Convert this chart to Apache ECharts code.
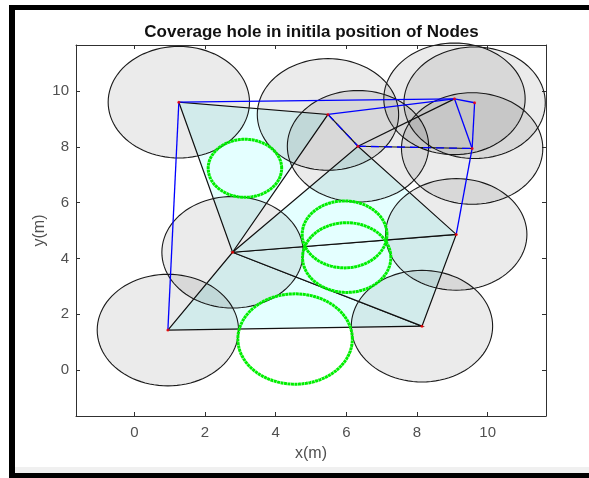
<!DOCTYPE html>
<html>
<head>
<meta charset="utf-8">
<script src="https://cdn.jsdelivr.net/npm/echarts@6/dist/echarts.min.js"></script>
<style>
html, body { margin: 0; padding: 0; background: #fff; }
#chart { width: 589px; height: 478px; }
</style>
</head>
<body>
<div id="chart"></div>
<script>
// sensor nodes, initial positions
const nodeX = [0.95, 1.26, 2.78, 5.48, 6.33, 9.06, 9.63, 9.56, 9.11, 8.14];
const nodeY = [1.43, 9.60, 4.22, 9.16, 8.02, 9.72, 9.58, 7.94, 4.86, 1.57];
const sensingRadius = 2;

// triangulation, by node index
const triangles = [[0, 2, 9], [2, 8, 9], [2, 4, 8], [1, 2, 3]];
const blackEdges = [[4, 5], [4, 7], [3, 4]];
const blueEdges = [[0, 1], [1, 5], [3, 5], [5, 6], [5, 7], [6, 7], [7, 8]];
const blueDashedEdges = [[4, 7], [3, 4]];

// coverage holes
const holeX = [3.13, 5.95, 6.01, 4.55];
const holeY = [7.23, 4.86, 4.03, 1.11];
const holeR = [1.04, 1.20, 1.25, 1.62];

const xTicks = [0, 2, 4, 6, 8, 10];
const yTicks = [0, 2, 4, 6, 8, 10];

const FONT = '"Liberation Sans", Arial, Helvetica, sans-serif';

function ringPoints(api, cx, cy, r) {
    const pts = [];
    for (let k = 0; k < 96; k++) {
        const a = k / 96 * Math.PI * 2;
        pts.push(api.coord([cx + r * Math.cos(a), cy + r * Math.sin(a)]));
    }
    return pts;
}

function edgeData(list) {
    return list.map(e => [nodeX[e[0]], nodeY[e[0]], nodeX[e[1]], nodeY[e[1]]]);
}

function edgeSeries(list, color, width, dash, z) {
    return {
        type: 'custom',
        z: z,
        data: edgeData(list),
        encode: { x: [0, 2], y: [1, 3] },
        renderItem: function (params, api) {
            const p1 = api.coord([api.value(0), api.value(1)]);
            const p2 = api.coord([api.value(2), api.value(3)]);
            return {
                type: 'line',
                shape: { x1: p1[0], y1: p1[1], x2: p2[0], y2: p2[1] },
                style: { stroke: color, lineWidth: width, lineDash: dash }
            };
        }
    };
}

const triData = triangles.map(t => [
    nodeX[t[0]], nodeY[t[0]], nodeX[t[1]], nodeY[t[1]], nodeX[t[2]], nodeY[t[2]]
]);
const circleData = nodeX.map((x, i) => [x, nodeY[i], sensingRadius]);
const holeData = holeX.map((x, i) => [x, holeY[i], holeR[i]]);
const nodeData = nodeX.map((x, i) => [x, nodeY[i]]);

function axisCommon(ticks, showLabel) {
    return {
        type: 'value',
        min: -1.65,
        max: 11.65,
        axisLine: { show: true, onZero: false, lineStyle: { color: '#303030', width: 1 } },
        axisTick: { show: true, inside: true, length: 4, customValues: ticks, lineStyle: { color: '#303030' } },
        axisLabel: { show: showLabel, customValues: ticks, color: '#505050', fontSize: 15, fontFamily: FONT },
        splitLine: { show: false }
    };
}

const chart = echarts.init(document.getElementById('chart'));

const xBottom = Object.assign(axisCommon(xTicks, true), {
    position: 'bottom', name: 'x(m)', nameLocation: 'middle', nameGap: 30, nameMoveOverlap: false,
    nameTextStyle: { color: '#505050', fontSize: 16, fontFamily: FONT }
});
xBottom.axisLabel.margin = 9;
const xTop = Object.assign(axisCommon(xTicks, false), { position: 'top' });
const yLeft = Object.assign(axisCommon(yTicks, true), {
    position: 'left', name: 'y(m)', nameLocation: 'middle', nameGap: 28, nameMoveOverlap: false,
    nameTextStyle: { color: '#505050', fontSize: 16, fontFamily: FONT }
});
yLeft.axisLabel.margin = 7;
const yRight = Object.assign(axisCommon(yTicks, false), { position: 'right' });

chart.setOption({
    animation: false,
    backgroundColor: '#ffffff',
    grid: { left: 76, right: 43, top: 45, bottom: 62, containLabel: false },
    xAxis: [xBottom, xTop],
    yAxis: [yLeft, yRight],
    graphic: [
        { type: 'rect', shape: { x: 15, y: 467, width: 574, height: 6 }, style: { fill: '#f0f0f0' }, silent: true },
        { type: 'rect', shape: { x: 9, y: 5, width: 580, height: 5 }, style: { fill: '#000' }, silent: true },
        { type: 'rect', shape: { x: 9, y: 5, width: 6, height: 473 }, style: { fill: '#000' }, silent: true },
        { type: 'rect', shape: { x: 9, y: 473, width: 580, height: 5 }, style: { fill: '#000' }, silent: true },
        {
            type: 'text', x: 311.5, y: 32.5, silent: true,
            style: {
                text: 'Coverage hole in initila position of Nodes',
                align: 'center', verticalAlign: 'middle',
                fill: '#111', font: 'bold 17px ' + FONT
            }
        }
    ],
    series: [
        {
            type: 'custom',
            z: 1,
            data: triData,
            encode: { x: [0, 2, 4], y: [1, 3, 5] },
            renderItem: function (params, api) {
                const pts = [0, 1, 2].map(k => api.coord([api.value(2 * k), api.value(2 * k + 1)]));
                return {
                    type: 'polygon',
                    shape: { points: pts },
                    style: { fill: '#e4ffff', stroke: '#111', lineWidth: 1.2 }
                };
            }
        },
        {
            type: 'custom',
            z: 2,
            data: circleData,
            encode: { x: 0, y: 1 },
            renderItem: function (params, api) {
                return {
                    type: 'polygon',
                    shape: { points: ringPoints(api, api.value(0), api.value(1), api.value(2)) },
                    style: { fill: 'rgba(0,0,0,0.08)', stroke: '#1a1a1a', lineWidth: 1.1 }
                };
            }
        },
        edgeSeries(blackEdges, '#111', 1.2, null, 3),
        edgeSeries(blueEdges, '#0000ff', 1.3, null, 4),
        edgeSeries(blueDashedEdges, '#0000ff', 1.3, [8, 5], 4),
        {
            type: 'custom',
            z: 5,
            data: holeData,
            encode: { x: 0, y: 1 },
            renderItem: function (params, api) {
                return {
                    type: 'polygon',
                    shape: { points: ringPoints(api, api.value(0), api.value(1), api.value(2)) },
                    style: { fill: 'none', stroke: '#00ee00', lineWidth: 3, lineDash: [3, 0.5] }
                };
            }
        },
        {
            type: 'scatter',
            z: 6,
            data: nodeData,
            symbol: 'circle',
            symbolSize: 3,
            itemStyle: { color: '#ff0000' }
        }
    ]
});
</script>
</body>
</html>
